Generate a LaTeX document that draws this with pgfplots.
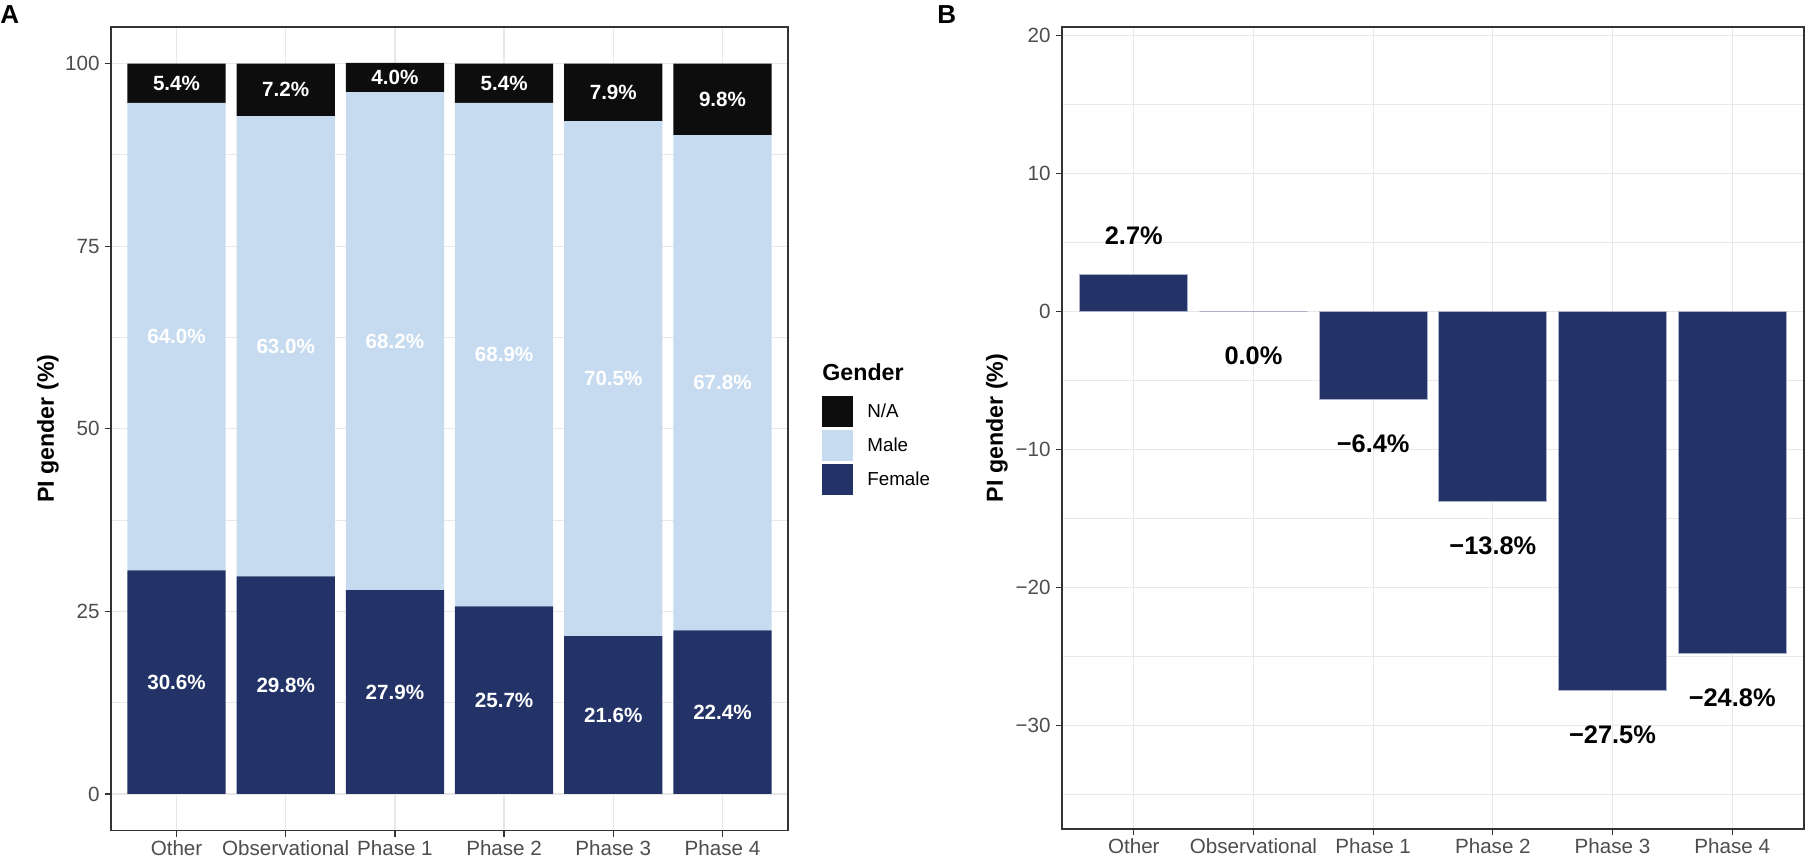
\documentclass[border=0pt]{standalone}
\usepackage{fontspec}
\setmainfont{Liberation Sans}
\usepackage{pgfplots}
\pgfplotsset{compat=1.18}
\usepackage{pgfplotstable}
\definecolor{female}{RGB}{35,51,104}
\definecolor{male}{RGB}{198,219,239}
\definecolor{na}{RGB}{13,13,13}
\definecolor{gridc}{RGB}{232,232,232}
\definecolor{tickc}{RGB}{77,77,77}
\definecolor{framec}{RGB}{51,51,51}
\definecolor{edgec}{RGB}{170,176,200}

\pgfplotstableread{
x female male na
0 30.6 64.0 5.4
1 29.8 63.0 7.2
2 27.9 68.2 4.0
3 25.7 68.9 5.4
4 21.6 70.5 7.9
5 22.4 67.8 9.8
}\stackdata

\pgfplotstableread{
x y lab
0 15.3 30.6
0 62.6 64.0
0 97.3 5.4
1 14.9 29.8
1 61.3 63.0
1 96.4 7.2
2 13.95 27.9
2 62.0 68.2
2 98.05 4.0
3 12.85 25.7
3 60.15 68.9
3 97.3 5.4
4 10.8 21.6
4 56.85 70.5
4 96.05 7.9
5 11.2 22.4
5 56.3 67.8
5 95.1 9.8
}\stacklab

\pgfplotstableread{
x val
0 2.7
1 0.0
2 -6.4
3 -13.8
4 -27.5
5 -24.8
}\diffdata

\pgfplotstableread{
x y lab
0 5.5 2.7
1 -3.2 0.0
2 -9.6 −6.4
3 -17.0 −13.8
4 -30.7 −27.5
5 -28.0 −24.8
}\difflab

\pgfplotsset{
  common/.style={
    scale only axis,
    anchor=south west,
    xmin=-0.6, xmax=5.6,
    xtick={0,1,2,3,4,5},
    xticklabels={Other,Observational,Phase 1,Phase 2,Phase 3,Phase 4},
    xmajorgrids, ymajorgrids, yminorgrids,
    major grid style={gridc, line width=0.6pt},
    minor grid style={gridc, line width=0.35pt},
    axis line style={framec, line width=0.6pt},
    tick align=outside, major tick length=3pt, minor tick length=0pt,
    tick style={framec, line width=0.6pt},
    xtick pos=bottom, ytick pos=left,
    tick label style={font=\fontsize{10.3}{12}\selectfont, text=tickc},
    xticklabel style={anchor=base, inner sep=0pt, yshift=-9.25pt},
    yticklabel style={anchor=east, inner sep=0pt, xshift=-2.5pt},
    ylabel style={font=\bfseries\fontsize{11.6}{13}\selectfont, anchor=center},
  },
  overlay/.style={
    scale only axis, anchor=south west, hide axis,
    xmin=-0.6, xmax=5.6,
  },
}

\begin{document}
\begin{tikzpicture}
\useasboundingbox (0,0) rectangle (904pt,429pt);

% Panel A
\begin{axis}[common,
  at={(55.5pt,13.75pt)}, width=338.5pt, height=401.75pt,
  ymin=-5, ymax=105,
  ytick={0,25,50,75,100}, yticklabels={0,25,50,75,100},
  minor ytick={12.5,37.5,62.5,87.5},
  ybar stacked, bar width=0.9,
  ylabel={PI gender (\%)},
  ylabel style={at={(axis description cs:-0.0931,0.5)}},
  reverse legend,
  legend image code/.code={\fill[#1] (0pt,-7.75pt) rectangle (15.5pt,7.75pt);},
  legend style={at={(axis description cs:1.0502,0.5408)}, anchor=north west,
    draw=none, fill=none, inner sep=0pt, row sep=1.5pt, column sep=7pt,
    font=\fontsize{9.4}{11}\selectfont, nodes={inner sep=0pt}},
  legend cell align=left,
]
\addplot[fill=female, draw=none] table[x=x,y=female]{\stackdata};
\addlegendentry{Female}
\addplot[fill=male, draw=none] table[x=x,y=male]{\stackdata};
\addlegendentry{Male}
\addplot[fill=na, draw=none] table[x=x,y=na]{\stackdata};
\addlegendentry{N/A}
\end{axis}

\begin{axis}[overlay,
  at={(55.5pt,13.75pt)}, width=338.5pt, height=401.75pt,
  ymin=-5, ymax=105]
\addplot[only marks, mark=none, point meta=explicit symbolic,
  nodes near coords={\pgfplotspointmeta\%},
  nodes near coords style={anchor=center, text=white, font=\bfseries\fontsize{10.3}{12}\selectfont}]
  table[x=x,y=y,meta=lab]{\stacklab};
\end{axis}

\node[anchor=base west, inner sep=0pt] at (411pt,239pt) {\bfseries\fontsize{11.6}{13}\selectfont Gender};

% Panel B
\begin{axis}[common,
  at={(531pt,14.5pt)}, width=371pt, height=401pt,
  ymin=-37.5, ymax=20.6,
  ytick={-30,-20,-10,0,10,20}, yticklabels={−30,−20,−10,0,10,20},
  minor ytick={-35,-25,-15,-5,5,15},
  ylabel={PI gender (\%)},
  ylabel style={at={(axis description cs:-0.0876,0.5)}},
]
\addplot[ybar, bar width=0.9, bar shift=0pt, fill=female, draw=edgec, line width=0.5pt]
  table[x=x,y=val]{\diffdata};
\end{axis}

\begin{axis}[overlay,
  at={(531pt,14.5pt)}, width=371pt, height=401pt,
  ymin=-37.5, ymax=20.6]
\addplot[only marks, mark=none, point meta=explicit symbolic,
  nodes near coords={\pgfplotspointmeta\%},
  nodes near coords style={anchor=center, text=black, font=\bfseries\fontsize{12.7}{14}\selectfont}]
  table[x=x,y=y,meta=lab]{\difflab};
\end{axis}

\node[anchor=base west, inner sep=0pt] at (0pt,417pt) {\bfseries\fontsize{13}{15}\selectfont A};
\node[anchor=base west, inner sep=0pt] at (468.5pt,417pt) {\bfseries\fontsize{13}{15}\selectfont B};
\end{tikzpicture}
\end{document}
